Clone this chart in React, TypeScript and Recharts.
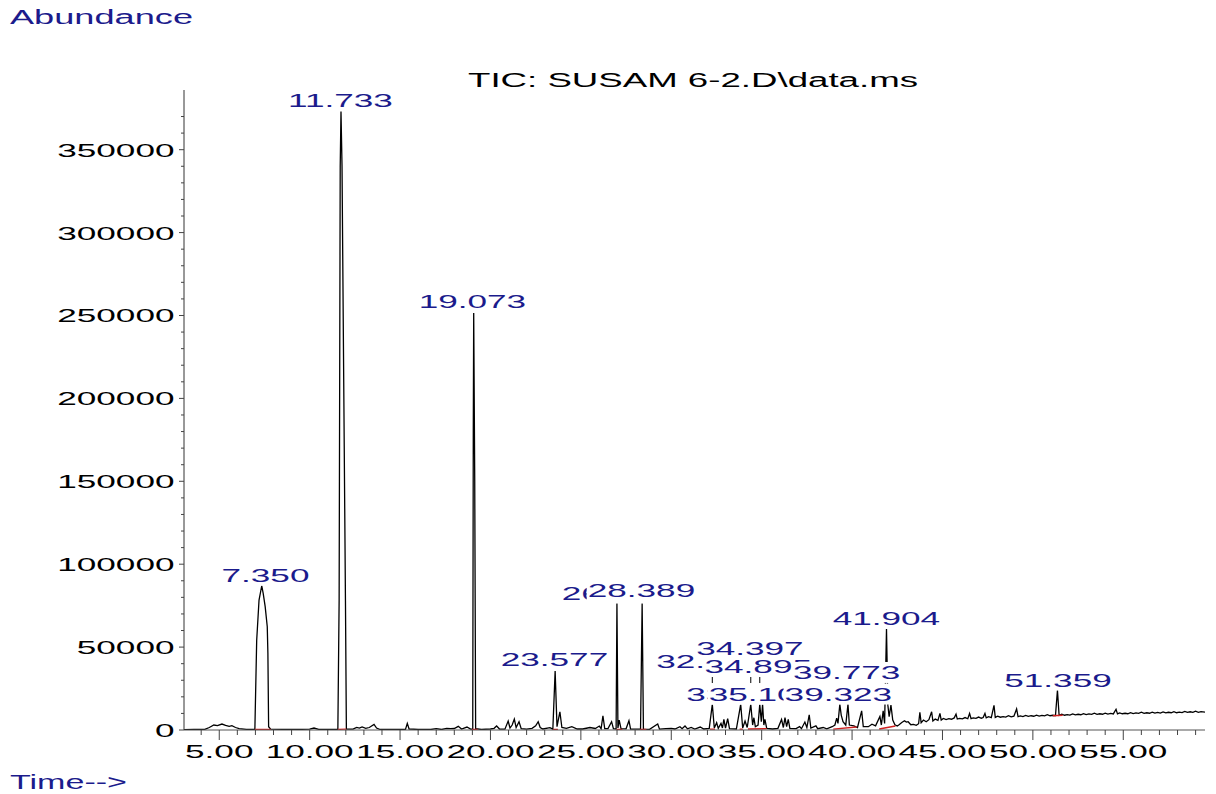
import React from "react";
import { ComposedChart, Line, Scatter, XAxis, YAxis } from "recharts";

// ---- chromatogram trace (retention time in min, abundance) ----
const earlyRun: [number, number][] = [
  [3.05, 200], [3.6, 300], [4.2, 400], [4.45, 1500], [4.7, 3000], [4.9, 2600], [5.15, 3600],
  [5.35, 2800], [5.55, 2200], [5.7, 2600], [5.9, 1500], [6.1, 800], [6.5, 400], [6.97, 300],
  [7.07, 54000], [7.2, 78400], [7.35, 87000], [7.43, 82400], [7.54, 74400], [7.655, 62300],
  [7.69, 46400], [7.73, 2000], [7.84, 500], [8.5, 400], [9.2, 300], [10.0, 500], [10.24, 1200],
  [10.5, 400], [11.0, 300], [11.56, 400], [11.63, 78000], [11.69, 340000], [11.733, 373000],
  [11.79, 340000], [11.98, 78000], [12.03, 600], [12.4, 500], [12.6, 1600], [12.75, 1200],
  [12.9, 1900], [13.1, 1000], [13.3, 1500], [13.56, 3400], [13.7, 1200], [13.9, 300], [14.3, 300],
  [15.3, 400], [15.4, 4000], [15.5, 600], [16.0, 300], [16.7, 300], [17.0, 800], [17.3, 300],
  [17.58, 1000], [17.8, 800], [18.0, 900], [18.22, 2200], [18.4, 600], [18.7, 1800], [18.9, 500],
  [19.02, 500], [19.05, 180000], [19.073, 251500], [19.13, 150000], [19.18, 800],
];

const midRun: [number, number][] = [
  [19.5, 300], [20.0, 600], [20.2, 1000], [20.34, 2400], [20.5, 600], [20.8, 500], [20.98, 5400],
  [21.08, 1200], [21.2, 3000], [21.32, 6600], [21.42, 1500], [21.58, 5000], [21.7, 800], [22.0, 500],
  [22.3, 1000], [22.5, 2500], [22.64, 5000], [22.75, 1500], [22.9, 600], [23.29, 1400], [23.45, 500],
  [23.577, 35600], [23.68, 2000], [23.84, 11000], [23.95, 1500], [24.2, 1000], [24.5, 2000],
  [24.8, 600], [25.1, 600], [25.5, 1500], [25.8, 900], [26.02, 2400], [26.12, 800], [26.22, 8600],
  [26.32, 900], [26.5, 800], [26.7, 5000], [26.8, 800], [26.95, 600], [26.995, 76600], [27.05, 1200],
  [27.12, 6000], [27.22, 800], [27.5, 700], [27.66, 5600], [27.75, 600], [28.3, 500], [28.389, 76600],
  [28.46, 500], [28.8, 400], [29.25, 3600], [29.35, 500], [29.7, 800], [30.0, 1000], [30.2, 600],
  [30.48, 2000], [30.6, 800], [30.76, 2400], [30.9, 700], [31.1, 1500], [31.3, 600], [31.6, 1800],
  [31.8, 600], [32.1, 1000], [32.27, 15500], [32.38, 1200], [32.51, 4400], [32.6, 1000], [32.75, 4000],
  [32.83, 1200], [32.91, 6400], [33.0, 1200], [33.12, 6800], [33.22, 800], [33.6, 600], [33.84, 15500],
  [33.95, 1200], [34.08, 5400], [34.2, 1500], [34.397, 15500], [34.5, 3000], [34.57, 7400],
  [34.65, 2000], [34.8, 3000], [34.895, 15500], [34.98, 5000], [35.05, 15500], [35.12, 3000],
  [35.18, 6400], [35.28, 1000], [35.6, 600], [35.9, 1000], [36.1, 6400], [36.2, 1500], [36.29, 7400],
  [36.38, 2000], [36.47, 6400], [36.56, 1000], [36.9, 800], [37.1, 2000], [37.2, 800], [37.39, 4800],
  [37.5, 1500], [37.63, 9200], [37.72, 1200], [38.0, 2500], [38.1, 800], [38.4, 1500], [38.6, 700],
  [38.9, 2000], [39.05, 3000], [39.15, 7200], [39.22, 4000], [39.323, 15500], [39.4, 9000],
  [39.5, 5000], [39.65, 3000], [39.773, 15500], [39.85, 3000], [40.1, 2500], [40.3, 1500],
  [40.53, 11500], [40.62, 2000], [40.9, 2000], [41.1, 3500], [41.3, 2500], [41.54, 8200], [41.62, 3000],
  [41.72, 11500], [41.8, 4000], [41.904, 60900], [41.98, 15000], [42.05, 8000], [42.15, 15000],
  [42.25, 6000],
];

const lateRun: [number, number][] = [
  [42.37, 3200], [42.5, 2400], [42.6, 3200], [42.75, 4500], [42.9, 5600], [43.0, 4800], [43.1, 5000],
  [43.25, 3200], [43.4, 3400], [43.55, 2800], [43.68, 3800], [43.75, 10700], [43.82, 4400], [43.95, 6000],
  [44.1, 5000], [44.25, 6200], [44.4, 11000], [44.47, 5400], [44.6, 6600], [44.75, 5800], [44.86, 10000],
  [44.93, 6000], [45.05, 7000], [45.2, 6300], [45.35, 6900], [45.5, 6500], [45.65, 7300], [45.75, 9600],
  [45.82, 6600], [45.95, 7000], [46.1, 6700], [46.25, 7500], [46.4, 6800], [46.5, 10000], [46.58, 6900],
  [46.7, 7300], [46.85, 7000], [47.0, 7800], [47.15, 7100], [47.25, 7500], [47.35, 10000], [47.42, 7300],
  [47.55, 8000], [47.7, 7500], [47.85, 14900], [47.92, 7600], [48.05, 8300], [48.2, 7700], [48.35, 8100],
  [48.5, 7800], [48.65, 8600], [48.8, 7900], [48.95, 8300], [49.1, 12700], [49.18, 8000], [49.3, 8500],
  [49.45, 8100], [49.6, 8800], [49.75, 8200], [49.9, 8600], [50.05, 8300], [50.2, 9000], [50.35, 8400],
  [50.5, 8800], [50.65, 8500], [50.8, 9200], [50.95, 8600], [51.1, 8900], [51.25, 8700], [51.359, 24000],
  [51.45, 8800], [51.6, 9500], [51.75, 8900], [51.9, 9300], [52.05, 9000], [52.2, 9700], [52.35, 9100],
  [52.5, 9500], [52.65, 9200], [52.8, 9900], [52.95, 9300], [53.1, 9700], [53.25, 9400], [53.4, 10100],
  [53.55, 9400], [53.7, 9800], [53.85, 9500], [54.0, 10200], [54.15, 9600], [54.3, 10000], [54.45, 9700],
  [54.6, 12500], [54.68, 9700], [54.8, 10300], [54.95, 9800], [55.1, 10100], [55.25, 9800], [55.4, 10500],
  [55.55, 9900], [55.7, 10300], [55.85, 10000], [56.0, 10700], [56.15, 10000], [56.3, 10400],
  [56.45, 10100], [56.6, 10800], [56.75, 10200], [56.9, 10600], [57.05, 10200], [57.2, 10900],
  [57.35, 10300], [57.5, 10700], [57.65, 10400], [57.8, 11100], [57.95, 10400], [58.1, 10800],
  [58.25, 10500], [58.4, 11200], [58.55, 10600], [58.7, 11000], [58.85, 10600], [59.0, 11300],
  [59.15, 10700], [59.3, 11100], [59.52, 10800],
];

// ---- integration baselines (red): [t1, v1, t2, v2] ----
const baselineSegs: [number, number, number, number][] = [
  [6.97, 300, 7.84, 300], [11.56, 400, 12.03, 500], [18.98, 400, 19.3, 400], [23.46, 400, 23.73, 400],
  [26.98, 400, 27.3, 400], [28.27, 400, 28.62, 400], [32.14, 500, 32.42, 500], [33.78, 500, 33.96, 500],
  [34.24, 600, 35.28, 800], [38.96, 500, 40.25, 1800], [41.5, 600, 42.4, 2400], [51.1, 8600, 51.65, 8900],
];

// ---- leader ticks below displaced labels: [t, vTop, vBottom] ----
const leaderTicks: [number, number, number][] = [
  [32.27, 32000, 28300], [34.397, 32000, 28300], [34.895, 32000, 28300],
];

// ---- peak labels (drawn in this order; each has an opaque box) ----
const labelTexts = ["7.350", "11.733", "19.073", "23.577", "26.995", "28.389", "32.271", "33.845",
  "34.397", "34.895", "35.103", "39.323", "39.773", "41.904", "51.359"];
const labelTimes = [7.555, 11.70, 19.0, 23.54, 26.91, 28.35, 32.14, 33.80, 34.35, 34.81, 35.04, 39.24,
  39.70, 41.90, 51.39];
const labelLevels = [93500, 380000, 258700, 42800, 82600, 84400, 41600, 21700, 49500, 38400, 21700,
  21700, 34700, 67500, 30200];

// ---- axis ticks ----
const xTicks = [4, 5, 6, 7, 8, 9, 10, 11, 12, 13, 14, 15, 16, 17, 18, 19, 20, 21, 22, 23, 24, 25, 26, 27,
  28, 29, 30, 31, 32, 33, 34, 35, 36, 37, 38, 39, 40, 41, 42, 43, 44, 45, 46, 47, 48, 49, 50, 51, 52, 53,
  54, 55, 56, 57, 58, 59];
const xMajorLabels = [5, 10, 15, 20, 25, 30, 35, 40, 45, 50, 55];
const yTicks = [0, 10000, 20000, 30000, 40000, 50000, 60000, 70000, 80000, 90000, 100000, 110000, 120000,
  130000, 140000, 150000, 160000, 170000, 180000, 190000, 200000, 210000, 220000, 230000, 240000, 250000,
  260000, 270000, 280000, 290000, 300000, 310000, 320000, 330000, 340000, 350000, 360000, 370000];
const yMajorLabels = [0, 50000, 100000, 150000, 200000, 250000, 300000, 350000];

const X_DOMAIN: [number, number] = [3.05, 59.52];
const Y_DOMAIN: [number, number] = [0, 386000];

// ---- styling ----
const FONT = "'Liberation Sans', Arial, Helvetica, sans-serif";
const BLUE = "#1b1b8c";
const SX = 1.85;
const FS = 19;

const traceData = [...earlyRun, ...midRun, ...lateRun].map(([t, v]) => ({ t, v }));

const baselineData: { t: number; v: number | null }[] = [];
baselineSegs.forEach(([t1, v1, t2, v2]) => {
  baselineData.push({ t: t1, v: v1 }, { t: t2, v: v2 }, { t: t2 + 0.001, v: null });
});

const leaderData: { t: number; v: number | null }[] = [];
leaderTicks.forEach(([t, a, b]) => {
  leaderData.push({ t, v: a }, { t, v: b }, { t: t + 0.001, v: null });
});

const labelData = labelTexts.map((s, i) => ({ t: labelTimes[i], v: labelLevels[i], s }));

function textWidth(s: string) {
  let w = 0;
  for (const c of s) w += c === "." ? 0.278 : 0.556;
  return w * FS * SX;
}

const XTick = (props: any) => {
  const { x, y, payload } = props;
  const v = payload.value as number;
  const major = xMajorLabels.includes(v);
  return (
    <g>
      <line x1={x} y1={y} x2={x} y2={y + (major ? 10 : 5)} stroke="#444" strokeWidth={1} />
      {major && (
        <text
          transform={`translate(${x},${y + 28}) scale(${SX},1)`}
          textAnchor="middle"
          fontSize={FS}
          fontFamily={FONT}
          fill="#000"
        >
          {v.toFixed(2)}
        </text>
      )}
    </g>
  );
};

const YTick = (props: any) => {
  const { x, y, payload } = props;
  const v = payload.value as number;
  const major = yMajorLabels.includes(v);
  return (
    <g>
      <line x1={x} y1={y} x2={x - (major ? 5 : 3)} y2={y} stroke="#444" strokeWidth={1} />
      {major && (
        <text
          transform={`translate(${x - 9.5},${y + 7}) scale(${SX},1)`}
          textAnchor="end"
          fontSize={FS}
          fontFamily={FONT}
          fill="#000"
        >
          {String(v)}
        </text>
      )}
    </g>
  );
};

const PeakLabel = (props: any) => {
  const { cx, cy, payload } = props;
  const w = textWidth(payload.s);
  return (
    <g>
      <rect x={cx - w / 2 - 1} y={cy - 10.5} width={w + 2} height={21} fill="#fff" />
      <text
        transform={`translate(${cx},${cy + 6.8}) scale(${SX},1)`}
        textAnchor="middle"
        fontSize={FS}
        fontFamily={FONT}
        fill={BLUE}
      >
        {payload.s}
      </text>
    </g>
  );
};

export default function App() {
  return (
    <div style={{ position: "absolute", left: 0, top: 0, width: 1216, height: 794, background: "#fff" }}>
      <ComposedChart width={1216} height={794} margin={{ top: 90, right: 11, bottom: 24, left: 0 }}>
        <XAxis
          dataKey="t"
          type="number"
          domain={X_DOMAIN}
          allowDataOverflow
          ticks={xTicks}
          interval={0}
          tick={(p: any) => <XTick {...p} />}
          tickLine={false}
          tickSize={0}
          tickMargin={0}
          height={40}
          axisLine={{ stroke: "#555", strokeWidth: 1 }}
        />
        <YAxis
          type="number"
          domain={Y_DOMAIN}
          allowDataOverflow
          ticks={yTicks}
          interval={0}
          tick={(p: any) => <YTick {...p} />}
          tickLine={false}
          tickSize={0}
          tickMargin={0}
          width={184}
          axisLine={{ stroke: "#333", strokeWidth: 1 }}
        />
        <Line
          data={traceData}
          dataKey="v"
          type="linear"
          stroke="#000"
          strokeWidth={1.3}
          dot={false}
          isAnimationActive={false}
        />
        <Line
          data={baselineData}
          dataKey="v"
          type="linear"
          stroke="#d02020"
          strokeWidth={1.4}
          dot={false}
          connectNulls={false}
          isAnimationActive={false}
        />
        <Line
          data={leaderData}
          dataKey="v"
          type="linear"
          stroke="#000"
          strokeWidth={1}
          dot={false}
          connectNulls={false}
          isAnimationActive={false}
        />
        <Scatter
          data={labelData}
          dataKey="v"
          shape={(p: any) => <PeakLabel {...p} />}
          isAnimationActive={false}
        />
      </ComposedChart>
      <svg
        width={1216}
        height={794}
        style={{ position: "absolute", left: 0, top: 0, pointerEvents: "none" }}
      >
        <text x={10} y={24} fontSize={19.5} fontFamily={FONT} fill={BLUE} textLength={183} lengthAdjust="spacingAndGlyphs">
          Abundance
        </text>
        <text x={468} y={87} fontSize={19.5} fontFamily={FONT} fill="#000" textLength={450} lengthAdjust="spacingAndGlyphs">
          {"TIC: SUSAM 6-2.D\\data.ms"}
        </text>
        <text x={10} y={789} fontSize={19.5} fontFamily={FONT} fill={BLUE} textLength={117} lengthAdjust="spacingAndGlyphs">
          {"Time-->"}
        </text>
      </svg>
    </div>
  );
}
